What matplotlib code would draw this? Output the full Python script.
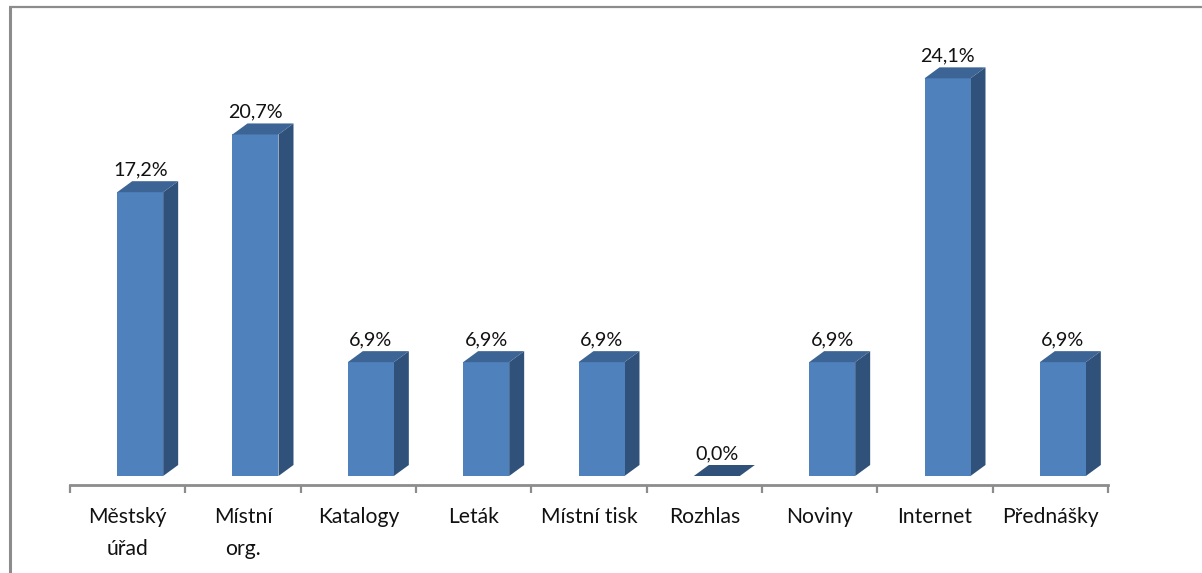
import matplotlib
matplotlib.use("Agg")
import matplotlib.pyplot as plt
from matplotlib.patches import Polygon, Rectangle

categories = ["Městský\núřad", "Místní\norg.", "Katalogy", "Leták", "Místní tisk",
              "Rozhlas", "Noviny", "Internet", "Přednášky"]
values = [17.2, 20.7, 6.9, 6.9, 6.9, 0.0, 6.9, 24.1, 6.9]
value_labels = ["17,2%", "20,7%", "6,9%", "6,9%", "6,9%", "0,0%", "6,9%", "24,1%", "6,9%"]

W, H = 1202, 573
plt.rcParams['font.family'] = ['Lato', 'DejaVu Sans']
fig = plt.figure(figsize=(W / 100, H / 100), dpi=100, facecolor='white')

# frame
bg = fig.add_axes([0, 0, 1, 1])
bg.set_xlim(0, W); bg.set_ylim(H, 0); bg.axis('off')
bg.plot([10, 10], [573, 7], color='#8c8c8c', lw=2.2, solid_capstyle='butt')
bg.plot([9, 1202], [7, 7], color='#8c8c8c', lw=1.6, solid_capstyle='butt')

# plot axes, placed in pixels
left, right, floor, top = 70, 1108, 484.5, 30
ax = fig.add_axes([left / W, 1 - floor / H, (right - left) / W, (floor - top) / H])
ppu = 16.5
base_off = 8.5
ax.set_xlim(-0.5, 8.5)
ax.set_ylim(-base_off / ppu, (floor - top - base_off) / ppu)
ax.patch.set_alpha(0)
for s in ('top', 'left', 'right'):
    ax.spines[s].set_visible(False)
ax.spines['bottom'].set_color('#8c8c8c')
ax.spines['bottom'].set_linewidth(2)

ax.set_xticks([i - 0.5 for i in range(len(categories) + 1)])
ax.set_xticklabels([])
ax.set_yticks([])
ax.tick_params(axis='x', length=6, width=1.6, color='#8c8c8c', direction='out')

pxx = 1 / ((right - left) / len(categories))
shift = 12.5 * pxx
bw = 46 * pxx
dx = 15 * pxx
dy = 11 / ppu
FRONT, SIDE, TOP = '#4f81bd', '#30527a', '#3c6494'

for i, (v, lab, cat) in enumerate(zip(values, value_labels, categories)):
    x0 = i + shift - bw / 2
    x1 = x0 + bw
    if v > 0:
        ax.add_patch(Polygon([(x1, 0), (x1 + dx, dy), (x1 + dx, v + dy), (x1, v)], fc=SIDE, ec='none'))
        ax.add_patch(Rectangle((x0, 0), bw, v, fc=FRONT, ec='none'))
    ax.add_patch(Polygon([(x0, v), (x0 + dx, v + dy), (x1 + dx, v + dy), (x1, v)],
                         fc=TOP if v > 0 else SIDE, ec='none'))
    ax.text(i + shift, v + dy + 3 / ppu, lab, ha='center', va='bottom',
            fontsize=14.2, color='#111111')
    ax.annotate(cat, xy=(i, 0), xycoords=('data', 'axes fraction'), xytext=(0, -16),
                textcoords='offset points', ha='center', va='top', fontsize=15.2,
                color='#111111', linespacing=1.76, annotation_clip=False)

fig.savefig("out.png", dpi=100, facecolor='white')
